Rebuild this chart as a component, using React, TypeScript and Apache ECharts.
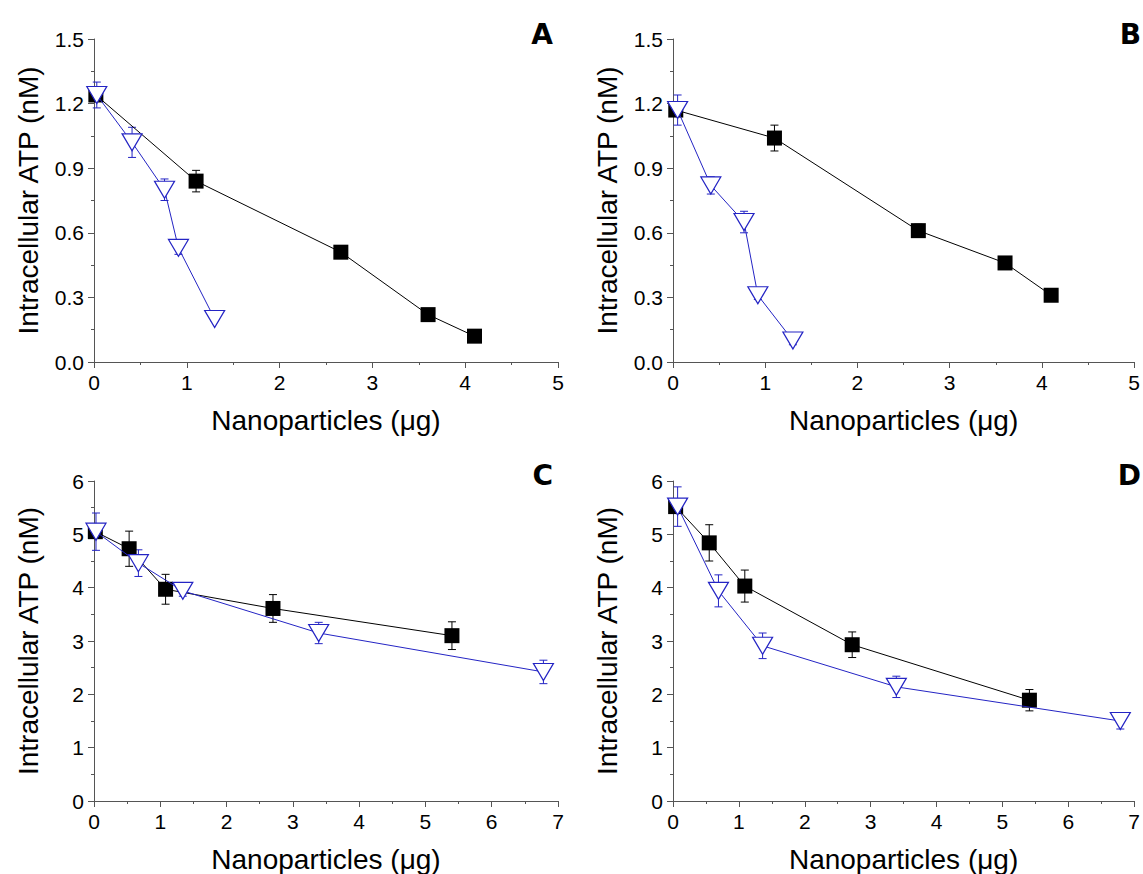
import React, { useEffect, useRef } from "react";
import * as echarts from "echarts";

// ---- Data ----
const A_SQ_X = [0.02, 1.1, 2.66, 3.6, 4.1];
const A_SQ_Y = [1.24, 0.84, 0.51, 0.22, 0.12];
const A_SQ_ERR = [0.03, 0.05, 0.02, 0.01, 0.01];
const A_TRI_X = [0.03, 0.41, 0.76, 0.91, 1.3];
const A_TRI_Y = [1.24, 1.02, 0.8, 0.53, 0.2];
const A_TRI_ERR = [0.06, 0.07, 0.05, 0.03, 0.01];

const B_SQ_X = [0.03, 1.1, 2.66, 3.6, 4.1];
const B_SQ_Y = [1.17, 1.04, 0.61, 0.46, 0.31];
const B_SQ_ERR = [0.02, 0.06, 0.03, 0.02, 0.01];
const B_TRI_X = [0.05, 0.41, 0.77, 0.92, 1.3];
const B_TRI_Y = [1.17, 0.82, 0.65, 0.31, 0.1];
const B_TRI_ERR = [0.07, 0.04, 0.05, 0.02, 0.02];

const C_SQ_X = [0.02, 0.53, 1.08, 2.7, 5.4];
const C_SQ_Y = [5.05, 4.73, 3.97, 3.61, 3.1];
const C_SQ_ERR = [0.1, 0.33, 0.28, 0.26, 0.26];
const C_TRI_X = [0.03, 0.67, 1.34, 3.39, 6.78];
const C_TRI_Y = [5.05, 4.46, 3.94, 3.15, 2.42];
const C_TRI_ERR = [0.35, 0.25, 0.1, 0.2, 0.22];

const D_SQ_X = [0.04, 0.55, 1.09, 2.72, 5.41];
const D_SQ_Y = [5.52, 4.84, 4.03, 2.93, 1.89];
const D_SQ_ERR = [0.1, 0.34, 0.3, 0.24, 0.2];
const D_TRI_X = [0.07, 0.69, 1.36, 3.39, 6.79];
const D_TRI_Y = [5.52, 3.94, 2.91, 2.14, 1.5];
const D_TRI_ERR = [0.37, 0.3, 0.24, 0.2, 0.15];

const PANEL_LABELS = ["A", "B", "C", "D"];
const X_TITLE = "Nanoparticles (\u03bcg)";
const Y_TITLE = "Intracellular ATP (nM)";
const AB_X_MAX = 5;
const AB_Y_MAX = 1.5;
const AB_Y_STEP = 0.3;
const CD_X_MAX = 7;
const CD_Y_MAX = 6;
const CD_Y_STEP = 1;

const FONT = "'Liberation Sans', Arial, sans-serif";
const BLACK = "#000000";
const BLUE = "#2424c4";
const AXIS = "#555555";

type Panel = {
  sqX: number[]; sqY: number[]; sqE: number[];
  triX: number[]; triY: number[]; triE: number[];
  xMax: number; yMax: number; yStep: number; decimals: number;
};

const PANELS: Panel[] = [
  { sqX: A_SQ_X, sqY: A_SQ_Y, sqE: A_SQ_ERR, triX: A_TRI_X, triY: A_TRI_Y, triE: A_TRI_ERR, xMax: AB_X_MAX, yMax: AB_Y_MAX, yStep: AB_Y_STEP, decimals: 1 },
  { sqX: B_SQ_X, sqY: B_SQ_Y, sqE: B_SQ_ERR, triX: B_TRI_X, triY: B_TRI_Y, triE: B_TRI_ERR, xMax: AB_X_MAX, yMax: AB_Y_MAX, yStep: AB_Y_STEP, decimals: 1 },
  { sqX: C_SQ_X, sqY: C_SQ_Y, sqE: C_SQ_ERR, triX: C_TRI_X, triY: C_TRI_Y, triE: C_TRI_ERR, xMax: CD_X_MAX, yMax: CD_Y_MAX, yStep: CD_Y_STEP, decimals: 0 },
  { sqX: D_SQ_X, sqY: D_SQ_Y, sqE: D_SQ_ERR, triX: D_TRI_X, triY: D_TRI_Y, triE: D_TRI_ERR, xMax: CD_X_MAX, yMax: CD_Y_MAX, yStep: CD_Y_STEP, decimals: 0 },
];

const GRIDS = [
  { left: 94, top: 39, width: 464, height: 323 },
  { left: 673, top: 39, width: 463, height: 323 },
  { left: 94, top: 481, width: 464, height: 323 },
  { left: 673, top: 481, width: 463, height: 323 },
];

const LABEL_POS = [
  { x: 553, y: 34 },
  { x: 1141, y: 34 },
  { x: 553, y: 475 },
  { x: 1141, y: 475 },
];

function errorSeries(xs: number[], ys: number[], es: number[], color: string, idx: number) {
  return {
    type: "custom",
    xAxisIndex: idx,
    yAxisIndex: idx,
    z: 1,
    clip: false,
    silent: true,
    data: xs.map((x, i) => [x, ys[i], es[i]]),
    encode: { x: 0, y: 1 },
    renderItem: (_params: any, api: any) => {
      const x = api.value(0);
      const y = api.value(1);
      const e = api.value(2);
      const top = api.coord([x, y + e]);
      const bot = api.coord([x, y - e]);
      const cw = 4;
      const st = { stroke: color, lineWidth: 1 };
      return {
        type: "group",
        children: [
          { type: "line", shape: { x1: top[0], y1: top[1], x2: bot[0], y2: bot[1] }, style: st },
          { type: "line", shape: { x1: top[0] - cw, y1: top[1], x2: top[0] + cw, y2: top[1] }, style: st },
          { type: "line", shape: { x1: bot[0] - cw, y1: bot[1], x2: bot[0] + cw, y2: bot[1] }, style: st },
        ],
      };
    },
  };
}

export default function App() {
  const ref = useRef<HTMLDivElement>(null);

  useEffect(() => {
    if (!ref.current) return;
    const chart = echarts.init(ref.current, undefined, { renderer: "svg" });

    const xAxis: any[] = [];
    const yAxis: any[] = [];
    const series: any[] = [];

    PANELS.forEach((p, i) => {
      xAxis.push({
        type: "value",
        gridIndex: i,
        min: 0,
        max: p.xMax,
        interval: 1,
        name: X_TITLE,
        nameLocation: "middle",
        nameGap: 44,
        nameTextStyle: { fontFamily: FONT, fontSize: 28, color: "#000" },
        axisLine: { show: true, lineStyle: { color: AXIS, width: 1 } },
        axisTick: { show: true, length: 6, lineStyle: { color: AXIS } },
        minorTick: { show: true, splitNumber: 2, length: 3, lineStyle: { color: AXIS } },
        splitLine: { show: false },
        axisLabel: { fontFamily: FONT, fontSize: 21, color: "#000", margin: 10 },
      });
      yAxis.push({
        type: "value",
        gridIndex: i,
        min: 0,
        max: p.yMax,
        interval: p.yStep,
        name: Y_TITLE,
        nameLocation: "middle",
        nameGap: 52,
        nameTextStyle: { fontFamily: FONT, fontSize: 28, color: "#000" },
        axisLine: { show: true, lineStyle: { color: AXIS, width: 1 } },
        axisTick: { show: true, length: 6, lineStyle: { color: AXIS } },
        minorTick: { show: true, splitNumber: 2, length: 3, lineStyle: { color: AXIS } },
        splitLine: { show: false },
        axisLabel: {
          fontFamily: FONT,
          fontSize: 21,
          color: "#000",
          margin: 10,
          formatter: (v: number) => v.toFixed(p.decimals),
        },
      });

      series.push(errorSeries(p.sqX, p.sqY, p.sqE, BLACK, i));
      series.push(errorSeries(p.triX, p.triY, p.triE, BLUE, i));
      series.push({
        type: "line",
        xAxisIndex: i,
        yAxisIndex: i,
        z: 2,
        data: p.sqX.map((x, k) => [x, p.sqY[k]]),
        symbol: "rect",
        symbolSize: 15,
        lineStyle: { color: BLACK, width: 1 },
        itemStyle: { color: BLACK, borderColor: BLACK, borderWidth: 0 },
        clip: false,
      });
      series.push({
        type: "line",
        xAxisIndex: i,
        yAxisIndex: i,
        z: 3,
        data: p.triX.map((x, k) => [x, p.triY[k]]),
        symbol: "triangle",
        symbolRotate: 180,
        symbolSize: [20, 17],
        lineStyle: { color: BLUE, width: 1 },
        itemStyle: { color: "#ffffff", borderColor: BLUE, borderWidth: 1.2 },
        clip: false,
      });
    });

    chart.setOption({
      animation: false,
      backgroundColor: "#ffffff",
      grid: GRIDS.map((g) => ({ ...g, containLabel: false })),
      xAxis,
      yAxis,
      series,
      graphic: PANEL_LABELS.map((t, i) => ({
        type: "text",
        x: LABEL_POS[i].x,
        y: LABEL_POS[i].y,
        style: {
          text: t,
          fontFamily: "'DejaVu Sans', Arial, sans-serif",
          fontWeight: 900,
          fontSize: 28,
          fill: "#000",
          textAlign: "right",
          textVerticalAlign: "middle",
        },
      })),
    });

    return () => chart.dispose();
  }, []);

  return (
    <div
      ref={ref}
      style={{ position: "absolute", left: 0, top: 0, width: 1143, height: 874 }}
    />
  );
}
